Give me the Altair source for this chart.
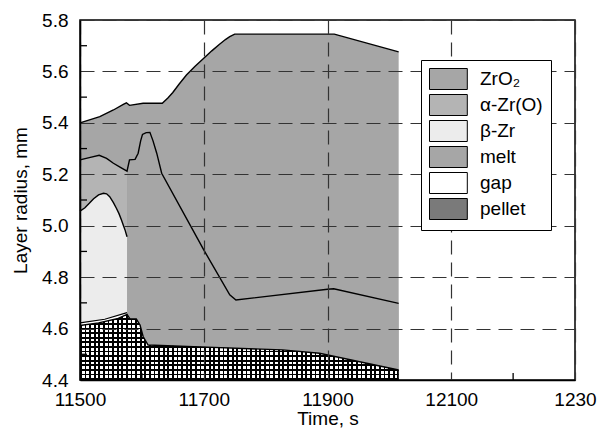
import altair as alt
import pandas as pd

# ---- data ----
layers = ["ZrO\u2082", "\u03b1-Zr(O)", "\u03b2-Zr", "melt", "gap", "pellet"]
layer_colors = ["#a6a6a6", "#b4b4b4", "#ececec", "#a6a6a6", "#ffffff", "#7a7a7a"]

x_ticks = [11500, 11700, 11900, 12100, 12300]
x_minor = [11600, 11800, 12000, 12200]
y_ticks = [4.4, 4.6, 4.8, 5.0, 5.2, 5.4, 5.6, 5.8]
y_minor = [4.5, 4.7, 4.9, 5.1, 5.3, 5.5, 5.7]

# outer surface of ZrO2
zro2_t = [11500, 11532, 11554, 11570, 11575, 11580, 11602, 11633, 11642, 11650, 11660, 11672, 11686, 11700, 11713, 11725, 11735, 11742, 11750, 11911, 12015]
zro2_r = [5.400, 5.424, 5.450, 5.472, 5.478, 5.468, 5.476, 5.476, 5.497, 5.518, 5.550, 5.586, 5.620, 5.651, 5.680, 5.705, 5.724, 5.735, 5.745, 5.745, 5.676]

# boundary ZrO2 / alpha-Zr(O) (left) and ZrO2 / melt (right)
bnd_t = [11500, 11515, 11531, 11543, 11554, 11566, 11576, 11580, 11589, 11594, 11598, 11601, 11607, 11613, 11618, 11624, 11632, 11700, 11742, 11752, 11900, 11910, 12015]
bnd_r = [5.256, 5.265, 5.274, 5.262, 5.243, 5.226, 5.212, 5.256, 5.258, 5.282, 5.330, 5.355, 5.362, 5.363, 5.330, 5.282, 5.204, 4.906, 4.731, 4.711, 4.753, 4.755, 4.698]
split_t = 11576

# outer surface of beta-Zr
beta_t = [11500, 11508, 11515, 11522, 11530, 11538, 11543, 11548, 11554, 11559, 11563, 11567, 11570, 11573, 11576]
beta_r = [5.057, 5.070, 5.087, 5.105, 5.120, 5.126, 5.124, 5.113, 5.090, 5.067, 5.047, 5.022, 5.002, 4.982, 4.957]

# cladding inner surface (gap outer)
gap_t = [11500, 11540, 11576]
gap_r = [4.622, 4.636, 4.662]

# pellet outer surface
pel_t = [11500, 11530, 11560, 11576, 11581, 11591, 11597, 11602, 11610, 11694, 11827, 11887, 12015]
pel_r = [4.612, 4.622, 4.638, 4.655, 4.637, 4.637, 4.614, 4.569, 4.536, 4.529, 4.517, 4.504, 4.439]

FONT = "Liberation Sans"
FS = 19
W, H = 495, 360
x_dom = [x_ticks[0], x_ticks[-1]]
y_dom = [y_ticks[0], y_ticks[-1]]


def df(t, r, name=None):
    d = pd.DataFrame({"t": t, "r": r})
    if name is not None:
        d["layer"] = name
    return d


zro2 = df(zro2_t, zro2_r, layers[0])
bnd = df(bnd_t, bnd_r)
alpha = bnd[bnd.t <= split_t].assign(layer=layers[1])
melt = bnd[bnd.t >= split_t].assign(layer=layers[3])
beta = df(beta_t, beta_r, layers[2])
gap = df(gap_t, gap_r, layers[4])
pel = df(pel_t, pel_r, layers[5])

X = alt.X(
    "t:Q",
    scale=alt.Scale(domain=x_dom, nice=False, zero=False),
    axis=alt.Axis(
        values=x_ticks, title="Time, s", format="d",
        labelExpr="datum.value == 12300 ? '1230\u2007' : datum.label",
        grid=True, gridDash=[14, 8], gridColor="#333333", gridWidth=1.2,
        ticks=False, domain=True, domainColor="black", domainWidth=1.5,
        labelFont=FONT, labelFontSize=FS, labelColor="black", labelPadding=10,
        titleFont=FONT, titleFontSize=FS, titleFontWeight="normal", titleColor="black",
        titlePadding=0, zindex=1, labelFlush=False, labelOverlap=False,
    ),
)
Y = alt.Y(
    "r:Q",
    scale=alt.Scale(domain=y_dom, nice=False, zero=False),
    axis=alt.Axis(
        values=y_ticks, title="Layer radius, mm", format=".1f",
        grid=True, gridDash=[14, 8], gridColor="#333333", gridWidth=1.2,
        ticks=False, domain=True, domainColor="black", domainWidth=1.5,
        labelFont=FONT, labelFontSize=FS, labelColor="black", labelPadding=12,
        titleFont=FONT, titleFontSize=FS, titleFontWeight="normal", titleColor="black",
        titlePadding=11, zindex=1, labelFlush=False, labelOverlap=False,
    ),
)
C = alt.Color(
    "layer:N",
    scale=alt.Scale(domain=layers, range=layer_colors),
    legend=alt.Legend(
        title=None, orient="none", legendX=341, legendY=40, zindex=3,
        fillColor="white", strokeColor="black", padding=8,
        symbolType="M-1,-1L2.6,-1L2.6,1L-1,1Z", symbolSize=441,
        symbolStrokeColor="black", symbolStrokeWidth=1, symbolOpacity=1,
        labelFont=FONT, labelFontSize=FS, labelColor="black",
        labelOffset=29, rowPadding=0, labelLimit=200,
    ),
)
base2 = alt.datum(y_dom[0])


def area(d):
    return alt.Chart(d).mark_area(opacity=1).encode(x=X, y=Y, y2=base2, color=C)


def line(d, w=1.4):
    return alt.Chart(d).mark_line(color="black", strokeWidth=w).encode(x=X, y=Y)


# ---- cross-hatch texture for the pellet (style only) ----
def stripes(length_px, period, on, on_color, off_color):
    stops = []
    k = 0
    while k * period < length_px:
        a = k * period / length_px
        b = min((k * period + on) / length_px, 1.0)
        c = min((k + 1) * period / length_px, 1.0)
        stops += [
            alt.GradientStop(color=on_color, offset=a),
            alt.GradientStop(color=on_color, offset=b),
            alt.GradientStop(color=off_color, offset=b),
            alt.GradientStop(color=off_color, offset=c),
        ]
        k += 1
    return stops


pel_w = (max(pel_t) - x_dom[0]) / (x_dom[1] - x_dom[0]) * W
pel_h = (max(pel_r) - y_dom[0]) / (y_dom[1] - y_dom[0]) * H
hatch_v = alt.Gradient(gradient="linear", x1=0, x2=1, y1=0, y2=0,
                       stops=stripes(pel_w, 4.6, 1.8, "#000000", "#ffffff"))
hatch_h = alt.Gradient(gradient="linear", x1=0, x2=0, y1=1, y2=0,
                       stops=stripes(pel_h, 4.6, 1.8, "#000000", "rgba(255,255,255,0)"))
pel_hv = alt.Chart(pel).mark_area(fill=hatch_v, opacity=1).encode(x=X, y=Y, y2=base2)
pel_hh = alt.Chart(pel).mark_area(fill=hatch_h, opacity=1).encode(x=X, y=Y, y2=base2)

ytick_df = pd.DataFrame({"r": y_minor})
xtick_df = pd.DataFrame({"t": x_minor})
yt = alt.Chart(ytick_df).mark_rule(color="black", strokeWidth=1.3).encode(y=Y, x=alt.value(0), x2=alt.value(7))
xt = alt.Chart(xtick_df).mark_rule(color="black", strokeWidth=1.3).encode(x=X, y=alt.value(H), y2=alt.value(H - 7))

chart = alt.layer(
    area(zro2), area(alpha), area(melt), area(beta), area(gap), area(pel),
    pel_hv, pel_hh,
    line(zro2), line(bnd), line(beta), line(gap, 1.1), line(pel),
    yt, xt,
).properties(
    width=W, height=H,
    autosize=alt.AutoSizeParams(type="none"),
    padding={"left": 80, "top": 20, "right": 23, "bottom": 51},
    background="white",
).configure_view(stroke="black", strokeWidth=1.5)

chart.save("out.html", embed_options={"renderer": "svg", "actions": False})
